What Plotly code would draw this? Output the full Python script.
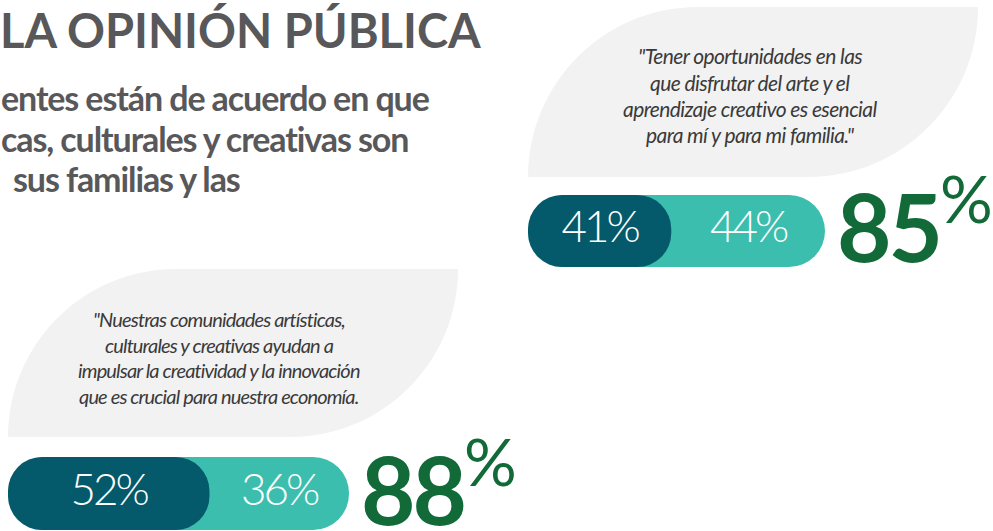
import plotly.graph_objects as go

# ---------------- data ----------------
statements = ["Arte en la familia", "Economía creativa"]
muy_de_acuerdo = [41, 52]        # dark segment
algo_de_acuerdo = [44, 36]       # teal segment
totales = [a + b for a, b in zip(muy_de_acuerdo, algo_de_acuerdo)]

quote_top = ['"Tener oportunidades en las',
             'que disfrutar del arte y el',
             'aprendizaje creativo es esencial',
             'para mí y para mi familia."']
quote_bottom = ['"Nuestras comunidades artísticas,',
                'culturales y creativas ayudan a',
                'impulsar la creatividad y la innovación',
                'que es crucial para nuestra economía.']
title_text = "LA OPINIÓN PÚBLICA"
subtitle_lines = ["entes están de acuerdo en que",
                  "cas, culturales y creativas son",
                  "sus familias y las"]

# ---------------- style ----------------
W, H = 993, 531
DARK = "#04596A"
TEAL = "#3BBEAE"
GREEN = "#116A37"
LEAF = "#F2F2F2"
GREY = "#58585A"
QUOTE = "#3A3A3A"
FONT = "Lato"


def px(x):
    return x / W


def py(y):
    return 1 - y / H


def ls(text, spacing):
    return f'<span style="letter-spacing:{spacing}px">{text}</span>'


def leaf_path(x0, y0, x1, y1):
    """Leaf: rounded top-left and bottom-right quarter circles (in pixel space)."""
    r = y1 - y0
    k = 0.5523 * r
    s = f"M {px(x0)},{py(y1)} L {px(x1 - r)},{py(y1)} "
    s += f"C {px(x1 - r + k)},{py(y1)} {px(x1)},{py(y0 + k)} {px(x1)},{py(y0)} "
    s += f"L {px(x0 + r)},{py(y0)} "
    s += f"C {px(x0 + r - k)},{py(y0)} {px(x0)},{py(y1 - k)} {px(x0)},{py(y1)} Z"
    return s


fig = go.Figure()

bar_axes = [
    dict(xa="x", ya="y", xdom=(528, 528 + 297 / totales[0] * 100), ydom=(195, 267)),
    dict(xa="x2", ya="y2", xdom=(8, 8 + 341 / totales[1] * 100), ydom=(457, 530)),
]

for i, ax in enumerate(bar_axes):
    fig.add_trace(go.Bar(
        y=[0], x=[totales[i]], base=0, orientation="h", width=1,
        marker=dict(color=TEAL, cornerradius=36, line=dict(width=0)),
        xaxis=ax["xa"], yaxis=ax["ya"], hoverinfo="skip", showlegend=False))
    fig.add_trace(go.Bar(
        y=[0], x=[muy_de_acuerdo[i]], base=0, orientation="h", width=1,
        marker=dict(color=DARK, cornerradius=34, line=dict(width=0)),
        xaxis=ax["xa"], yaxis=ax["ya"], hoverinfo="skip", showlegend=False))
    fig.add_trace(go.Scatter(
        x=[muy_de_acuerdo[i] / 2, muy_de_acuerdo[i] + algo_de_acuerdo[i] / 2],
        y=[0, 0], mode="text",
        text=[ls(f"{muy_de_acuerdo[i]}%", -3), ls(f"{algo_de_acuerdo[i]}%", -3)],
        textposition="middle center",
        textfont=dict(family=FONT, size=44, color="white", weight=300),
        xaxis=ax["xa"], yaxis=ax["ya"], hoverinfo="skip", showlegend=False))

layout = dict(
    width=W, height=H, margin=dict(l=0, r=0, t=0, b=0),
    paper_bgcolor="white", plot_bgcolor="rgba(0,0,0,0)",
    barmode="overlay", showlegend=False, hovermode=False,
)
for i, ax in enumerate(bar_axes):
    sfx = "" if i == 0 else str(i + 1)
    layout["xaxis" + sfx] = dict(domain=[px(ax["xdom"][0]), px(ax["xdom"][1])],
                                 range=[0, 100], visible=False, fixedrange=True)
    layout["yaxis" + sfx] = dict(domain=[py(ax["ydom"][1]), py(ax["ydom"][0])],
                                 range=[-0.5, 0.5], visible=False, fixedrange=True)
    if i > 0:
        layout["xaxis" + sfx]["anchor"] = "y" + sfx
        layout["yaxis" + sfx]["anchor"] = "x" + sfx
fig.update_layout(**layout)

# leaf backgrounds
fig.add_shape(type="path", path=leaf_path(528, 7, 978, 177), xref="paper", yref="paper",
              fillcolor=LEAF, line=dict(width=0), layer="below")
fig.add_shape(type="path", path=leaf_path(8, 269, 458, 437), xref="paper", yref="paper",
              fillcolor=LEAF, line=dict(width=0), layer="below")

annotations = []
annotations.append(dict(text=f"<b>{title_text}</b>", x=px(-2), y=py(30), xref="paper", yref="paper",
                        xanchor="left", yanchor="middle", showarrow=False,
                        font=dict(family=FONT, size=47, color=GREY)))
sub_x = [-1, -1, 11]
sub_y = [97, 138, 179]
for t, xx, yy in zip(subtitle_lines, sub_x, sub_y):
    annotations.append(dict(text=f"<b>{ls(t, -1.1)}</b>", x=px(xx), y=py(yy), xref="paper", yref="paper",
                            xanchor="left", yanchor="middle", showarrow=False,
                            font=dict(family=FONT, size=34, color=GREY)))

for k, line in enumerate(quote_top):
    annotations.append(dict(text=f"<i>{ls(line, -0.6)}</i>", x=px(750), y=py(56 + k * 26.3),
                            xref="paper", yref="paper", xanchor="center", yanchor="middle",
                            showarrow=False, font=dict(family=FONT, size=21, color=QUOTE)))
for k, line in enumerate(quote_bottom):
    annotations.append(dict(text=f"<i>{ls(line, -0.85)}</i>", x=px(219), y=py(319 + k * 25.6),
                            xref="paper", yref="paper", xanchor="center", yanchor="middle",
                            showarrow=False, font=dict(family=FONT, size=20, color=QUOTE)))

for i, ax in enumerate(bar_axes):
    annotations.append(dict(text=f"<b>{ls(str(totales[i]), -3)}</b><sup>%</sup>",
                            x=totales[i], y=0, xref=ax["xa"], yref=ax["ya"],
                            xanchor="left", yanchor="middle", xshift=10, yshift=11,
                            showarrow=False, font=dict(family=FONT, size=94, color=GREEN)))

fig.update_layout(annotations=annotations)
fig.write_html("out.html", config={"displayModeBar": False, "staticPlot": True},
               post_script="document.body.style.margin='0';document.body.style.padding='0';")
